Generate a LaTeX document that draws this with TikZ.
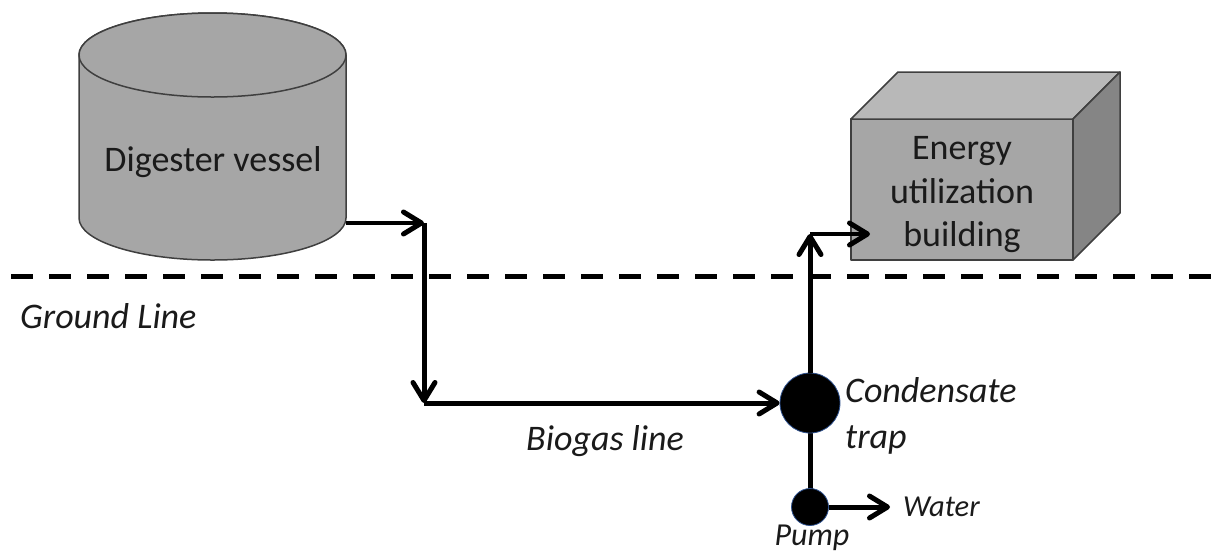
\documentclass[tikz,border=0pt]{standalone}
\usepackage{fontspec}
\setmainfont{Carlito}
\usetikzlibrary{arrows.meta}
\definecolor{ink}{HTML}{1A1A1A}
\definecolor{edgegray}{HTML}{3F3F3F}
\definecolor{bodygray}{HTML}{A6A6A6}
\definecolor{topgray}{HTML}{B8B8B8}
\definecolor{sidegray}{HTML}{858585}
\definecolor{rimblue}{HTML}{2F528F}
\tikzset{
  x=1pt,y=-1pt,
  solidpart/.style={draw=edgegray,line width=1.5pt,line join=round},
  pipe/.style={draw=black,line width=5pt},
  flow/.style={pipe,-{Straight Barb[length=18pt,width=22pt,line width=5pt,round]}},
  thinflow/.style={draw=black,line width=4pt,-{Straight Barb[length=18pt,width=22pt,line width=5pt,round]}},
  blob/.style={circle,fill=black,draw=rimblue,line width=0.8pt,inner sep=0pt},
  title/.style={font=\fontsize{36}{43.5}\selectfont,text=ink,align=center,inner sep=0pt},
  note/.style={font=\fontsize{36}{46}\selectfont\itshape,text=ink,align=left,inner sep=0pt},
  smallw/.style={font=\fontsize{30.5}{36}\selectfont\itshape,text=ink,inner sep=0pt},
  smallp/.style={font=\fontsize{32}{36}\selectfont\itshape,text=ink,inner sep=0pt},
  ground/.style={draw=black,line width=5pt,dash pattern=on 22pt off 16pt},
}
\begin{document}
\begin{tikzpicture}
\useasboundingbox (0,0) rectangle (1231,550);
% digester vessel
\path[solidpart,fill=bodygray] (79,55) -- (79,218) arc[start angle=180,end angle=360,x radius=133.5,y radius=-42] -- (346,55) arc[start angle=0,end angle=180,x radius=133.5,y radius=-42] -- cycle;
\path[solidpart,fill=bodygray] (212.5,55) ellipse[x radius=133.5,y radius=42];
\node[title] (digester) at (213,162) {Digester vessel};
% building
\path[solidpart,fill=bodygray] (851,119) rectangle (1073,260);
\path[solidpart,fill=topgray] (851,119) -- (898,72) -- (1120,72) -- (1073,119) -- cycle;
\path[solidpart,fill=sidegray] (1073,119) -- (1120,72) -- (1120,213) -- (1073,260) -- cycle;
\node[title] (building) at (962,195) {Energy\\utilization\\building};
% ground line
\coordinate (groundL) at (11,276.5);
\coordinate (groundR) at (1215,276.5);
\draw[ground] (groundL) -- (groundR);
\node[note,anchor=west] (groundlabel) at (20,316) {Ground Line};
% junctions
\coordinate (outlet) at (346,223);
\coordinate (drop) at (424,223);
\coordinate (bottom) at (424,403);
\coordinate (riser) at (810,234);
\coordinate (inlet) at (870,234);
\coordinate (waterend) at (890,507);
% trap and pump
\draw[pipe] (810,403) -- (810,507);
\node[blob,minimum size=60pt] (trap) at (810,403) {};
\node[blob,minimum size=37pt] (pump) at (810,507) {};
% connectors
\draw[thinflow] (outlet) -- (drop);
\draw[flow] (drop) -- (bottom);
\draw[flow] (bottom) -- (trap.west);
\draw[flow] (trap.north) -- (riser);
\draw[thinflow] (riser) -- (inlet);
\draw[flow] (pump.east) -- (waterend);
% labels
\node[note,anchor=west] (traplabel) at (845,415.5) {Condensate\\trap};
\node[note,anchor=west] (biogas) at (526,441) {Biogas line};
\node[smallw,anchor=west] (water) at (903,507) {Water};
\node[smallp,anchor=center] (pumplabel) at (812,538) {Pump};
\end{tikzpicture}
\end{document}
